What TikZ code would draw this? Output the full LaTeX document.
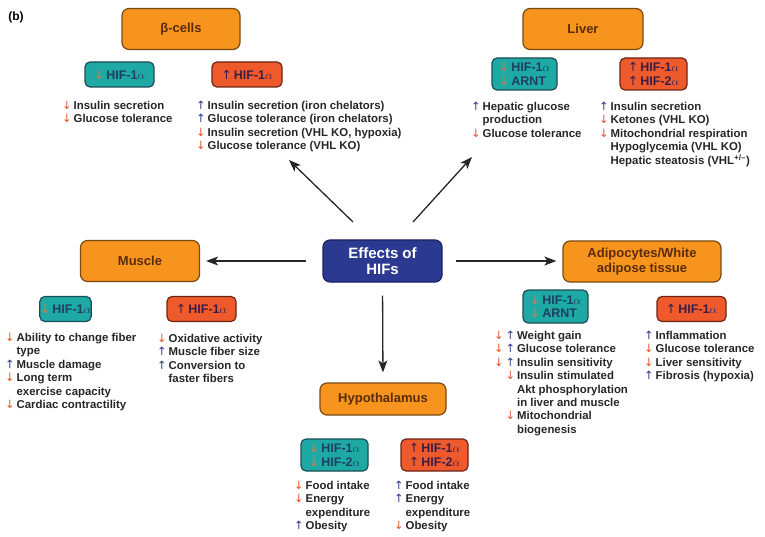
\documentclass[tikz,border=0pt]{standalone}
\usepackage{fontspec}
\setmainfont{Liberation Sans}
\newfontfamily\arrowfont{DejaVu Sans}
\usetikzlibrary{arrows.meta}

\definecolor{organfill}{HTML}{F7941D}
\definecolor{organline}{HTML}{7A4A14}
\definecolor{organtext}{HTML}{5A2C0C}
\definecolor{hubfill}{HTML}{2B3990}
\definecolor{hubline}{HTML}{1B2260}
\definecolor{lowfill}{HTML}{1FA9A4}
\definecolor{lowline}{HTML}{1A4E55}
\definecolor{lowtext}{HTML}{1E3F60}
\definecolor{highfill}{HTML}{EE5A2C}
\definecolor{highline}{HTML}{6E2414}
\definecolor{hightext}{HTML}{3A1E48}
\definecolor{dnred}{HTML}{E5522B}
\definecolor{upblue}{HTML}{2E3A8C}
\definecolor{fadedn}{HTML}{C9804C}

\newcommand{\dnar}{\textcolor{dnred}{\arrowfont\mdseries ↓}}
\newcommand{\upar}{\textcolor{upblue}{\arrowfont\mdseries ↑}}
\newcommand{\lowar}{\textcolor{fadedn}{\arrowfont\mdseries ↓}}
\newcommand{\higar}{\textcolor{hightext}{\arrowfont\mdseries ↑}}

\tikzset{
  organ/.style={draw=organline, fill=organfill, line width=1.2pt, rounded corners=7pt,
    inner sep=0pt, minimum height=41pt, align=center, text=organtext,
    font=\fontsize{13}{15}\selectfont\bfseries},
  hub/.style={draw=hubline, fill=hubfill, line width=1.2pt, rounded corners=7pt,
    inner sep=0pt, minimum width=119pt, minimum height=42pt, align=center, text=white,
    font=\fontsize{15}{15.5}\selectfont\bfseries},
  lowbox/.style={draw=lowline, fill=lowfill, line width=1.2pt, rounded corners=5pt,
    inner sep=0pt, minimum height=25pt, align=left, text=lowtext,
    font=\fontsize{12.5}{13.5}\selectfont\bfseries},
  highbox/.style={draw=highline, fill=highfill, line width=1.2pt, rounded corners=5pt,
    inner sep=0pt, minimum height=25pt, align=left, text=hightext,
    font=\fontsize{12.5}{13.5}\selectfont\bfseries},
  effects/.style={anchor=north west, inner sep=0pt, text=black!85,
    font=\fontsize{11.4}{13.4}\selectfont\bfseries},
  link/.style={draw=black!85, line width=1.3pt, -{Stealth[length=12pt,width=9pt,inset=3pt]}}
}

\begin{document}
\begin{tikzpicture}[x=1pt, y=-1pt]
  \useasboundingbox (0,0) rectangle (765,537);
  \node[font=\fontsize{12}{14}\selectfont\bfseries] (panel) at (16,17) {(b)};

  % organs around the hub
  \node[hub] (hub) at (382.5,261) {Effects of\\HIFs};
  \node[organ, minimum width=118pt] (beta) at (181,29) {β-cells};
  \node[organ, minimum width=120pt] (liver) at (583,29) {Liver};
  \node[organ, minimum width=119pt] (muscle) at (140,261) {Muscle};
  \node[organ, minimum width=158pt] (adipo) at (642,261.5) {Adipocytes/White\\adipose tissue};
  \node[organ, minimum width=126pt, minimum height=32pt] (hypo) at (383,399) {Hypothalamus};

  % HIF levels
  \node[lowbox, minimum width=69pt] (betalow) at (119.5,74.5) {\lowar\,HIF-1$\alpha$};
  \node[highbox, minimum width=70pt] (betahigh) at (247,74.5) {\higar\,HIF-1$\alpha$};
  \node[lowbox, minimum width=65pt, minimum height=32pt] (liverlow) at (524.5,74) {\lowar\,HIF-1$\alpha$\\\lowar\,ARNT};
  \node[highbox, minimum width=67pt, minimum height=32pt] (liverhigh) at (653.5,74) {\higar\,HIF-1$\alpha$\\\higar\,HIF-2$\alpha$};
  \node[lowbox, minimum width=51pt] (musclelow) at (65.5,309) {\lowar\,HIF-1$\alpha$};
  \node[highbox, minimum width=69pt] (musclehigh) at (201.5,309) {\higar\,HIF-1$\alpha$};
  \node[lowbox, minimum width=65pt, minimum height=33pt] (adipolow) at (555.5,306.5) {\lowar\,HIF-1$\alpha$\\\lowar\,ARNT};
  \node[highbox, minimum width=69pt] (adipohigh) at (691.5,309) {\higar\,HIF-1$\alpha$};
  \node[lowbox, minimum width=67pt, minimum height=32pt] (hypolow) at (334.5,455) {\lowar\,HIF-1$\alpha$\\\lowar\,HIF-2$\alpha$};
  \node[highbox, minimum width=67pt, minimum height=32pt] (hypohigh) at (434.5,455) {\higar\,HIF-1$\alpha$\\\higar\,HIF-2$\alpha$};

  % effects
  \node[effects] (betalowfx) at (62,100) {\begin{tabular}{@{}l@{\,}l@{}}
    \dnar & Insulin secretion\\ \dnar & Glucose tolerance\end{tabular}};
  \node[effects] (betahighfx) at (196,100) {\begin{tabular}{@{}l@{\,}l@{}}
    \upar & Insulin secretion (iron chelators)\\
    \upar & Glucose tolerance (iron chelators)\\
    \dnar & Insulin secretion (VHL KO, hypoxia)\\
    \dnar & Glucose tolerance (VHL KO)\end{tabular}};
  \node[effects] (liverlowfx) at (471,101) {\begin{tabular}{@{}l@{\,}l@{}}
    \upar & Hepatic glucose\\ & production\\ \dnar & Glucose tolerance\end{tabular}};
  \node[effects] (liverhighfx) at (599,101) {\begin{tabular}{@{}l@{\,}l@{}}
    \upar & Insulin secretion\\
    \dnar & Ketones (VHL KO)\\
    \dnar & Mitochondrial respiration\\
     & Hypoglycemia (VHL KO)\\
     & Hepatic steatosis (VHL\textsuperscript{+/--})\end{tabular}};
  \node[effects] (musclelowfx) at (5,332) {\begin{tabular}{@{}l@{\,}l@{}}
    \dnar & Ability to change fiber\\ & type\\
    \upar & Muscle damage\\
    \dnar & Long term\\ & exercise capacity\\
    \dnar & Cardiac contractility\end{tabular}};
  \node[effects] (musclehighfx) at (157,333) {\begin{tabular}{@{}l@{\,}l@{}}
    \dnar & Oxidative activity\\
    \upar & Muscle fiber size\\
    \upar & Conversion to\\ & faster fibers\end{tabular}};
  \node[effects] (adipolowfx) at (494,330) {\begin{tabular}{@{}l@{\,}l@{\,}l@{}}
    \dnar & \upar & Weight gain\\
    \dnar & \upar & Glucose tolerance\\
    \dnar & \upar & Insulin sensitivity\\
     & \dnar & Insulin stimulated\\
     & & Akt phosphorylation\\
     & & in liver and muscle\\
     & \dnar & Mitochondrial\\
     & & biogenesis\end{tabular}};
  \node[effects] (adipohighfx) at (644,330) {\begin{tabular}{@{}l@{\,}l@{}}
    \upar & Inflammation\\
    \dnar & Glucose tolerance\\
    \dnar & Liver sensitivity\\
    \upar & Fibrosis (hypoxia)\end{tabular}};
  \node[effects] (hypolowfx) at (294,480) {\begin{tabular}{@{}l@{\,}l@{}}
    \dnar & Food intake\\ \dnar & Energy\\ & expenditure\\ \upar & Obesity\end{tabular}};
  \node[effects] (hypohighfx) at (394,480) {\begin{tabular}{@{}l@{\,}l@{}}
    \upar & Food intake\\ \upar & Energy\\ & expenditure\\ \dnar & Obesity\end{tabular}};

  \coordinate (betafrom) at (353,222);
  \coordinate (betato) at (289,160);
  \coordinate (liverfrom) at (413,222);
  \coordinate (liverto) at (472,157);

  \begin{scope}[link]
    \draw (betafrom) to (betato);
    \draw (liverfrom) to (liverto);
    \draw[shorten <=16pt, shorten >=6pt] (hub.west) to (muscle.east);
    \draw[shorten <=13pt, shorten >=6pt] (hub.east) to (hub.east -| adipo.west);
    \draw[shorten <=13pt, shorten >=10pt] (hub.south) to (hypo.north);
  \end{scope}
\end{tikzpicture}
\end{document}
